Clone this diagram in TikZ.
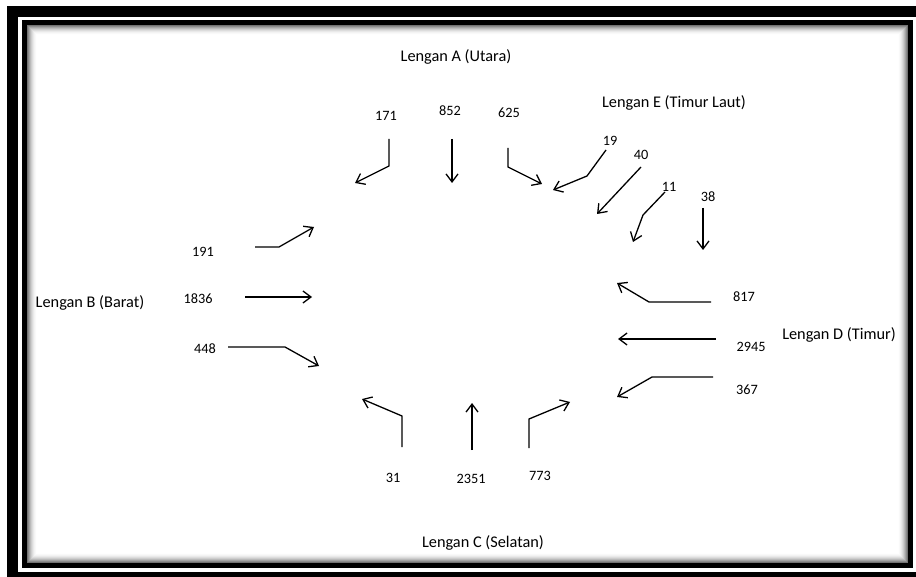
\documentclass[tikz,border=0pt]{standalone}
\usepackage{fontspec}
\setmainfont{Carlito}
\usetikzlibrary{arrows.meta}
\begin{document}
\begin{tikzpicture}[x=1pt,y=-1pt,
  flow/.style={line width=1.3pt,-{Straight Barb[length=8pt,width=12pt,line width=1.3pt]}},
  armlabel/.style={font=\fontsize{16.3}{18}\selectfont,inner sep=0pt},
  count/.style={font=\fontsize{14.3}{16}\selectfont,inner sep=0pt}]
\useasboundingbox (0,0) rectangle (916,577);
% double frame
\begin{scope}
  \clip (0,0) rectangle (916,577);
  \draw[line width=11pt] (12.5,11.5) rectangle (921.5,577.5);
\end{scope}
\foreach \k in {0,...,9} {
  \pgfmathsetmacro\p{55*(1-\k/10)^2}
  \draw[line width=1pt,black!\p] (27+\k,25.5+\k) rectangle (907-\k,562.5-\k);
}
\draw[line width=5pt] (24,22.5) rectangle (910,565.5);

% arm labels
\node[armlabel] (armA) at (456,57) {Lengan A (Utara)};
\node[armlabel] (armE) at (674,103) {Lengan E (Timur Laut)};
\node[armlabel] (armB) at (90,303) {Lengan B (Barat)};
\node[armlabel] (armD) at (839,335) {Lengan D (Timur)};
\node[armlabel] (armC) at (483,543) {Lengan C (Selatan)};

% traffic counts
\node[count] (n171) at (386,116) {171};
\node[count] (n852) at (450,111) {852};
\node[count] (n625) at (509,113) {625};
\node[count] (n19) at (610,141) {19};
\node[count] (n40) at (641,155) {40};
\node[count] (n11) at (669,187) {11};
\node[count] (n38) at (708,197) {38};
\node[count] (n191) at (203,252) {191};
\node[count] (n1836) at (198,299) {1836};
\node[count] (n448) at (205,349) {448};
\node[count] (n817) at (744,297) {817};
\node[count] (n2945) at (751,347) {2945};
\node[count] (n367) at (747,390) {367};
\node[count] (n31) at (393,478) {31};
\node[count] (n2351) at (471,479) {2351};
\node[count] (n773) at (540,476) {773};

% movement arrows: start and tip of each
\coordinate (s171) at (389,139);  \coordinate (t171) at (355,183);
\coordinate (s852) at (452,139);  \coordinate (t852) at (452,183);
\coordinate (s625) at (508,148);  \coordinate (t625) at (542,184);
\coordinate (s19) at (606,150);   \coordinate (t19) at (553,190);
\coordinate (s40) at (641,167);   \coordinate (t40) at (597,214);
\coordinate (s11) at (665,192);   \coordinate (t11) at (633,242);
\coordinate (s38) at (703,208);   \coordinate (t38) at (703,250);
\coordinate (s191) at (255,247);  \coordinate (t191) at (314,227);
\coordinate (s1836) at (245,297); \coordinate (t1836) at (312,297);
\coordinate (s448) at (228,347);  \coordinate (t448) at (319,366);
\coordinate (s817) at (711,302);  \coordinate (t817) at (617,283);
\coordinate (s2945) at (716,339); \coordinate (t2945) at (618,339);
\coordinate (s367) at (713,377);  \coordinate (t367) at (617,397);
\coordinate (s31) at (402,447);   \coordinate (t31) at (362,399);
\coordinate (s2351) at (472,450); \coordinate (t2351) at (472,403);
\coordinate (s773) at (529,448);  \coordinate (t773) at (570,402);

\draw[flow] (s171) -- (389,166) -- (t171);
\draw[flow] (s852) -- (t852);
\draw[flow] (s625) -- (508,167) -- (t625);
\draw[flow] (s19) -- (587,176) -- (t19);
\draw[flow] (s40) -- (t40);
\draw[flow] (s11) -- (643,215) -- (t11);
\draw[flow] (s38) -- (t38);
\draw[flow] (s191) -- (279,247) -- (t191);
\draw[flow] (s1836) -- (t1836);
\draw[flow] (s448) -- (285,347) -- (t448);
\draw[flow] (s817) -- (649,302) -- (t817);
\draw[flow] (s2945) -- (t2945);
\draw[flow] (s367) -- (652,377) -- (t367);
\draw[flow] (s31) -- (402,416) -- (t31);
\draw[flow] (s2351) -- (t2351);
\draw[flow] (s773) -- (529,419) -- (t773);
\end{tikzpicture}
\end{document}
